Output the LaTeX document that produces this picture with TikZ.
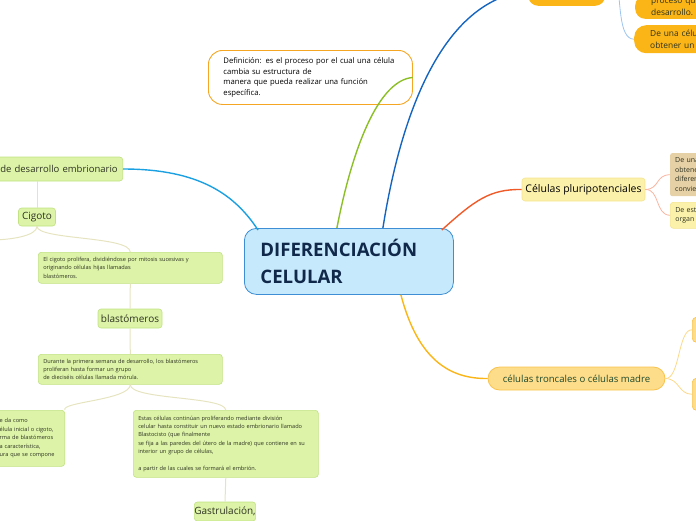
\documentclass[tikz,border=0pt]{standalone}
\usepackage{fontspec}
\setmainfont{Open Sans}
\usetikzlibrary{positioning}

\definecolor{centrefill}{HTML}{C6E9FB}
\definecolor{centreline}{HTML}{3D8ED4}
\definecolor{centretext}{HTML}{10284A}
\definecolor{greenfill}{HTML}{DCF3A8}
\definecolor{greenline}{HTML}{C2E283}
\definecolor{paleline}{HTML}{E6E4C0}
\definecolor{orangefill}{HTML}{FBB516}
\definecolor{orangeline}{HTML}{F5A623}
\definecolor{troncfill}{HTML}{FDDC8A}
\definecolor{troncline}{HTML}{F8C34E}
\definecolor{tronctext}{HTML}{1E4A2C}
\definecolor{yellowfill}{HTML}{FCF1AA}
\definecolor{yellowline}{HTML}{F4E590}
\definecolor{tanfill}{HTML}{E6D0A6}
\definecolor{notetext}{HTML}{2E3320}
\definecolor{cyanbranch}{RGB}{27,161,226}
\definecolor{greenbranch}{RGB}{140,191,38}
\definecolor{bluebranch}{RGB}{21,101,192}
\definecolor{redbranch}{RGB}{240,90,40}
\definecolor{orangebranch}{RGB}{251,181,22}
\definecolor{salmontwig}{RGB}{248,181,160}
\definecolor{yellowtwig}{RGB}{252,217,138}
\definecolor{bluetwig}{RGB}{158,197,240}

\tikzset{
  idea/.style={draw=greenline, fill=greenfill, rounded corners=3pt, line width=0.6pt, text=notetext, inner sep=0pt, font=\fontsize{10}{12}\selectfont},
  note/.style={idea, inner xsep=5pt, align=left, font=\fontsize{5.6}{8.4}\selectfont},
  branch/.style={line width=1.4pt},
  twig/.style={draw=paleline, line width=1pt},
}

\begin{document}
\begin{tikzpicture}[x=1pt, y=-1pt]
\useasboundingbox (0,0) rectangle (696,520);
\clip (0,0) rectangle (696,520);

% centre and definition
\node[draw=centreline, fill=centrefill, rounded corners=12pt, line width=0.8pt, text=centretext, anchor=north west, text width=177pt, inner xsep=16pt, minimum width=209pt, minimum height=66pt, align=left, font=\fontsize{18.6}{27}\selectfont\bfseries] (central) at (244,228) {DIFERENCIACIÓN\\CELULAR};
\node[draw=orangeline, fill=white, rounded corners=14pt, line width=0.9pt, anchor=north west, text width=174pt, inner xsep=15pt, minimum height=54pt, align=left, font=\fontsize{7.7}{10.6}\selectfont] (definicion) at (208,50) {Definición: es el proceso por el cual una célula\\cambia su estructura de\\manera que pueda realizar una función\\específica.};

% green subtree
\node[idea, anchor=east, text width=150pt, inner xsep=5pt, align=right, minimum height=24pt, font=\fontsize{9.5}{12}\selectfont] (etapas) at (123,169) {de desarrollo embrionario};
\node[idea, minimum width=37pt, minimum height=18pt] (cigoto) at (37,217) {Cigoto};
\node[note, anchor=north west, text width=174pt, minimum height=31pt] (prolifera) at (38,252) {El cigoto prolifera, dividiéndose por mitosis sucesivas y\\originando células hijas llamadas\\blastómeros.};
\node[idea, minimum width=64pt, minimum height=19pt] (blastomeros) at (130,318.5) {blastómeros};
\node[note, anchor=north west, text width=174pt, minimum height=30pt] (durante) at (38,354) {Durante la primera semana de desarrollo, los blastómeros\\proliferan hasta formar un grupo\\de dieciséis células llamada mórula.};
\node[note, anchor=north east, text width=60pt, minimum height=56pt] (morula) at (65,410) {e da como\\élula inicial o cigoto,\\rma de blastómeros\\a característica,\\ura que se compone};
\node[note, anchor=north west, text width=175pt, minimum height=67pt] (estas) at (133,410) {Estas células continúan proliferando mediante división\\celular hasta constituir un nuevo estado embrionario llamado\\Blastocisto (que finalmente\\se fija a las paredes del útero de la madre) que contiene en su\\interior un grupo de células,\\[8.4pt]a partir de las cuales se formará el embrión.};
\node[idea, minimum width=59pt, minimum height=19pt] (gastrulacion) at (225,511.5) {Gastrulación,};
\coordinate (izq1) at (-10,240);

% right side
\node[draw=yellowline, fill=yellowfill, rounded corners=3pt, line width=0.6pt, minimum width=123pt, minimum height=23pt, inner sep=0pt, font=\fontsize{10.5}{12}\selectfont] (pluri) at (583.5,189.5) {Células pluripotenciales};
\node[fill=tanfill, rounded corners=2pt, anchor=north west, text width=40pt, inner xsep=5pt, minimum height=43pt, align=left, text=notetext, font=\fontsize{7}{9.6}\selectfont] (pluriA) at (670,153) {De una\\obtene\\diferen\\convie};
\node[draw=yellowline, fill=yellowfill, rounded corners=3pt, line width=0.6pt, anchor=north west, text width=40pt, inner xsep=5pt, minimum height=26pt, align=left, text=notetext, font=\fontsize{7}{9.8}\selectfont] (pluriB) at (670,202) {De est\\organ};

\node[draw=troncline, fill=troncfill, rounded corners=11.5pt, line width=0.8pt, minimum width=177pt, minimum height=23pt, inner sep=0pt, text=tronctext, font=\fontsize{9.6}{12}\selectfont] (troncales) at (576.5,378.5) {células troncales o células madre};
\node[draw=troncline, fill=troncfill, rounded corners=4pt, line width=0.6pt, anchor=north west, minimum width=30pt, minimum height=25pt] (troncA) at (692,317) {};
\node[draw=troncline, fill=troncfill, rounded corners=4pt, line width=0.6pt, anchor=north west, minimum width=30pt, minimum height=32pt] (troncB) at (692,378) {};

% top right
\node[fill=orangefill, rounded corners=10pt, anchor=south west, minimum width=77pt, minimum height=30pt] (arriba) at (528,6) {};
\node[fill=orangefill, rounded corners=10pt, anchor=south west, text width=50pt, inner xsep=16pt, inner ysep=3.5pt, align=left, text=notetext, font=\fontsize{8.4}{11.5}\selectfont] (proceso) at (635,19) {proceso qu\\desarrollo.};
\node[fill=orangefill, rounded corners=12pt, anchor=north west, text width=50pt, inner xsep=16pt, minimum height=28pt, align=left, text=notetext, font=\fontsize{8.4}{11.5}\selectfont] (deuna) at (634,25) {De una célu\\obtener un};
\coordinate (ramal) at (616,-30);

% main branches
\draw[branch, cyanbranch] (central.north west) ++(14,2) coordinate (c1) .. controls (235,195) and (200,169) .. (etapas.east);
\draw[branch, greenbranch] (central.north) ++(-12,0) coordinate (c2) .. controls (352,150) and (378,80) .. (definicion.east);
\draw[branch, bluebranch] (central.north) ++(34,0) coordinate (c3) .. controls (400,120) and (440,0) .. (arriba.west);
\draw[branch, redbranch] (central.north east) ++(-12,2) coordinate (c4) .. controls (475,200) and (490,189) .. (pluri.west);
\draw[branch, orangebranch] (central.south) ++(52,0) coordinate (c5) .. controls (418,360) and (450,379) .. (troncales.west);

% green subtree twigs
\draw[twig] (etapas.south -| cigoto.north) -- (cigoto.north);
\draw[twig] (cigoto.south) .. controls (37,240) and (130,236) .. (prolifera.north);
\draw[twig] (cigoto.south) .. controls (37,236) and (10,240) .. (izq1);
\draw[twig] (prolifera.south) -- (blastomeros.north);
\draw[twig] (blastomeros.south) -- (durante.north);
\draw[twig] (durante.south) .. controls (130,400) and (60,402) .. (morula.north east);
\draw[twig] (durante.south) .. controls (130,400) and (225,396) .. (estas.north);
\draw[twig] (estas.south) -- (gastrulacion.north);

% thin twigs on the right
\draw[line width=0.8pt, salmontwig] (pluri.east) .. controls (660,189) and (655,175) .. (pluriA.west);
\draw[line width=0.8pt, salmontwig] (pluri.east) .. controls (660,189) and (655,215) .. (pluriB.west);
\draw[line width=0.8pt, yellowtwig] (troncales.east) .. controls (680,379) and (678,329) .. (troncA.west);
\draw[line width=0.8pt, yellowtwig] (troncales.east) .. controls (680,379) and (678,394) .. (troncB.west);
\draw[line width=0.8pt, bluetwig] (ramal) .. controls (621,0) and (618,39) .. (deuna.west);
\end{tikzpicture}
\end{document}
